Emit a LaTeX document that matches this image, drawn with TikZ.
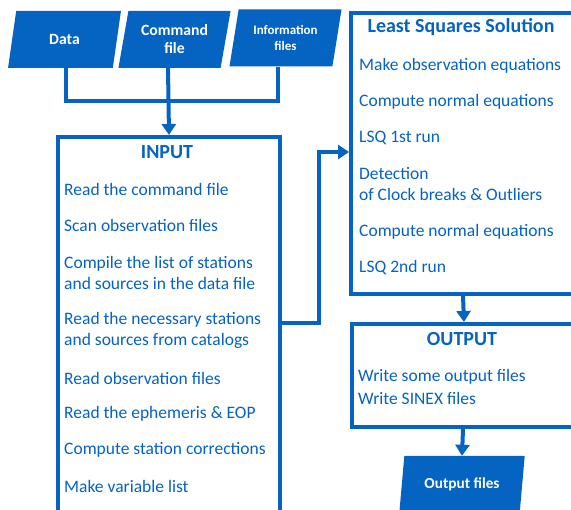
\documentclass[tikz,border=0pt]{standalone}
\usepackage{fontspec}
\setmainfont{Carlito}
\usetikzlibrary{shapes.geometric,arrows.meta}
\definecolor{bl}{RGB}{5,99,193}
\tikzset{
  conn/.style={draw=bl,line width=4pt},
  arr/.style={conn,-{Triangle[length=11pt,width=14pt]}},
  box/.style={draw=bl,line width=4pt,fill=white,inner sep=0pt},
  para/.style={shape=trapezium,trapezium left angle=76,trapezium right angle=104,
    trapezium stretches=true,fill=bl,inner sep=0pt,minimum width=113pt,minimum height=57pt,
    text=white,font=\bfseries\fontsize{15.7}{18}\selectfont,align=center},
  ttl/.style={text=bl,font=\bfseries\fontsize{20}{22}\selectfont},
  item/.style={text=bl,anchor=west,inner sep=0pt,font=\fontsize{17.5}{21}\selectfont,align=left},
}
\begin{document}
\begin{tikzpicture}[x=1pt,y=-1pt]
\useasboundingbox (0,0) rectangle (571,510);
\clip (0,0) rectangle (571,510);
% top inputs
\node[para] (data) at (64.5,39.5) {Data};
\node[para] (cmd) at (174.5,39.5) {Command\\file};
\node[para,font=\bfseries\fontsize{13}{16}\selectfont] (info) at (285.5,38) {Information\\files};
\coordinate (j) at (168,101);
% INPUT box
\node[box,anchor=north west,minimum width=222pt,minimum height=420pt] (input) at (56,135) {};
\node[ttl] (tin) at (167,152) {INPUT};
\node[item] (i1) at (64,189) {Read the command file};
\node[item] (i2) at (64,225) {Scan observation files};
\node[item] (i3) at (64,272.5) {Compile the list of stations\\and sources in the data file};
\node[item] (i4) at (64,330.5) {Read the necessary stations\\and sources from catalogs};
\node[item] (i5) at (64,378) {Read observation files};
\node[item] (i6) at (64,414) {Read the ephemeris \& EOP};
\node[item] (i7) at (64,450) {Compute station corrections};
\node[item] (i8) at (64,486) {Make variable list};
% LSQ box
\node[box,anchor=north west,minimum width=260pt,minimum height=281pt] (lsq) at (349,11) {};
\node[ttl] (tlsq) at (461,27) {Least Squares Solution};
\node[item] (l1) at (359,66) {Make observation equations};
\node[item] (l2) at (359,102) {Compute normal equations};
\node[item] (l3) at (359,138) {LSQ 1st run};
\node[item] (l4) at (359,184.5) {Detection\\of Clock breaks \& Outliers};
\node[item] (l5) at (359,232) {Compute normal equations};
\node[item] (l6) at (359,268) {LSQ 2nd run};
% OUTPUT box
\node[box,anchor=north west,minimum width=260pt,minimum height=103pt] (output) at (350,322) {};
\node[ttl] (tout) at (462,339) {OUTPUT};
\node[item] (o1) at (358,377) {Write some output files};
\node[item] (o2) at (358,398) {Write SINEX files};
% output files
\node[para,minimum width=126pt,font=\bfseries\fontsize{15.3}{17}\selectfont] (outf) at (462,484.5) {Output files};
% connectors
\draw[conn] ([xshift=1.5pt]data.south) |- (j) -| ([xshift=-7.5pt]info.south);
\draw[arr] ([xshift=-6.5pt]cmd.south) -- (input.north);
\draw[arr] ([yshift=-188pt]input.north east) -- ++(37,0) |- ([yshift=-141pt]lsq.north west);
\draw[arr] ([xshift=114pt]lsq.south west) -- ([xshift=114pt]output.north west);
\draw[arr] ([xshift=113pt]output.south west) -- (outf.north);
\end{tikzpicture}
\end{document}
